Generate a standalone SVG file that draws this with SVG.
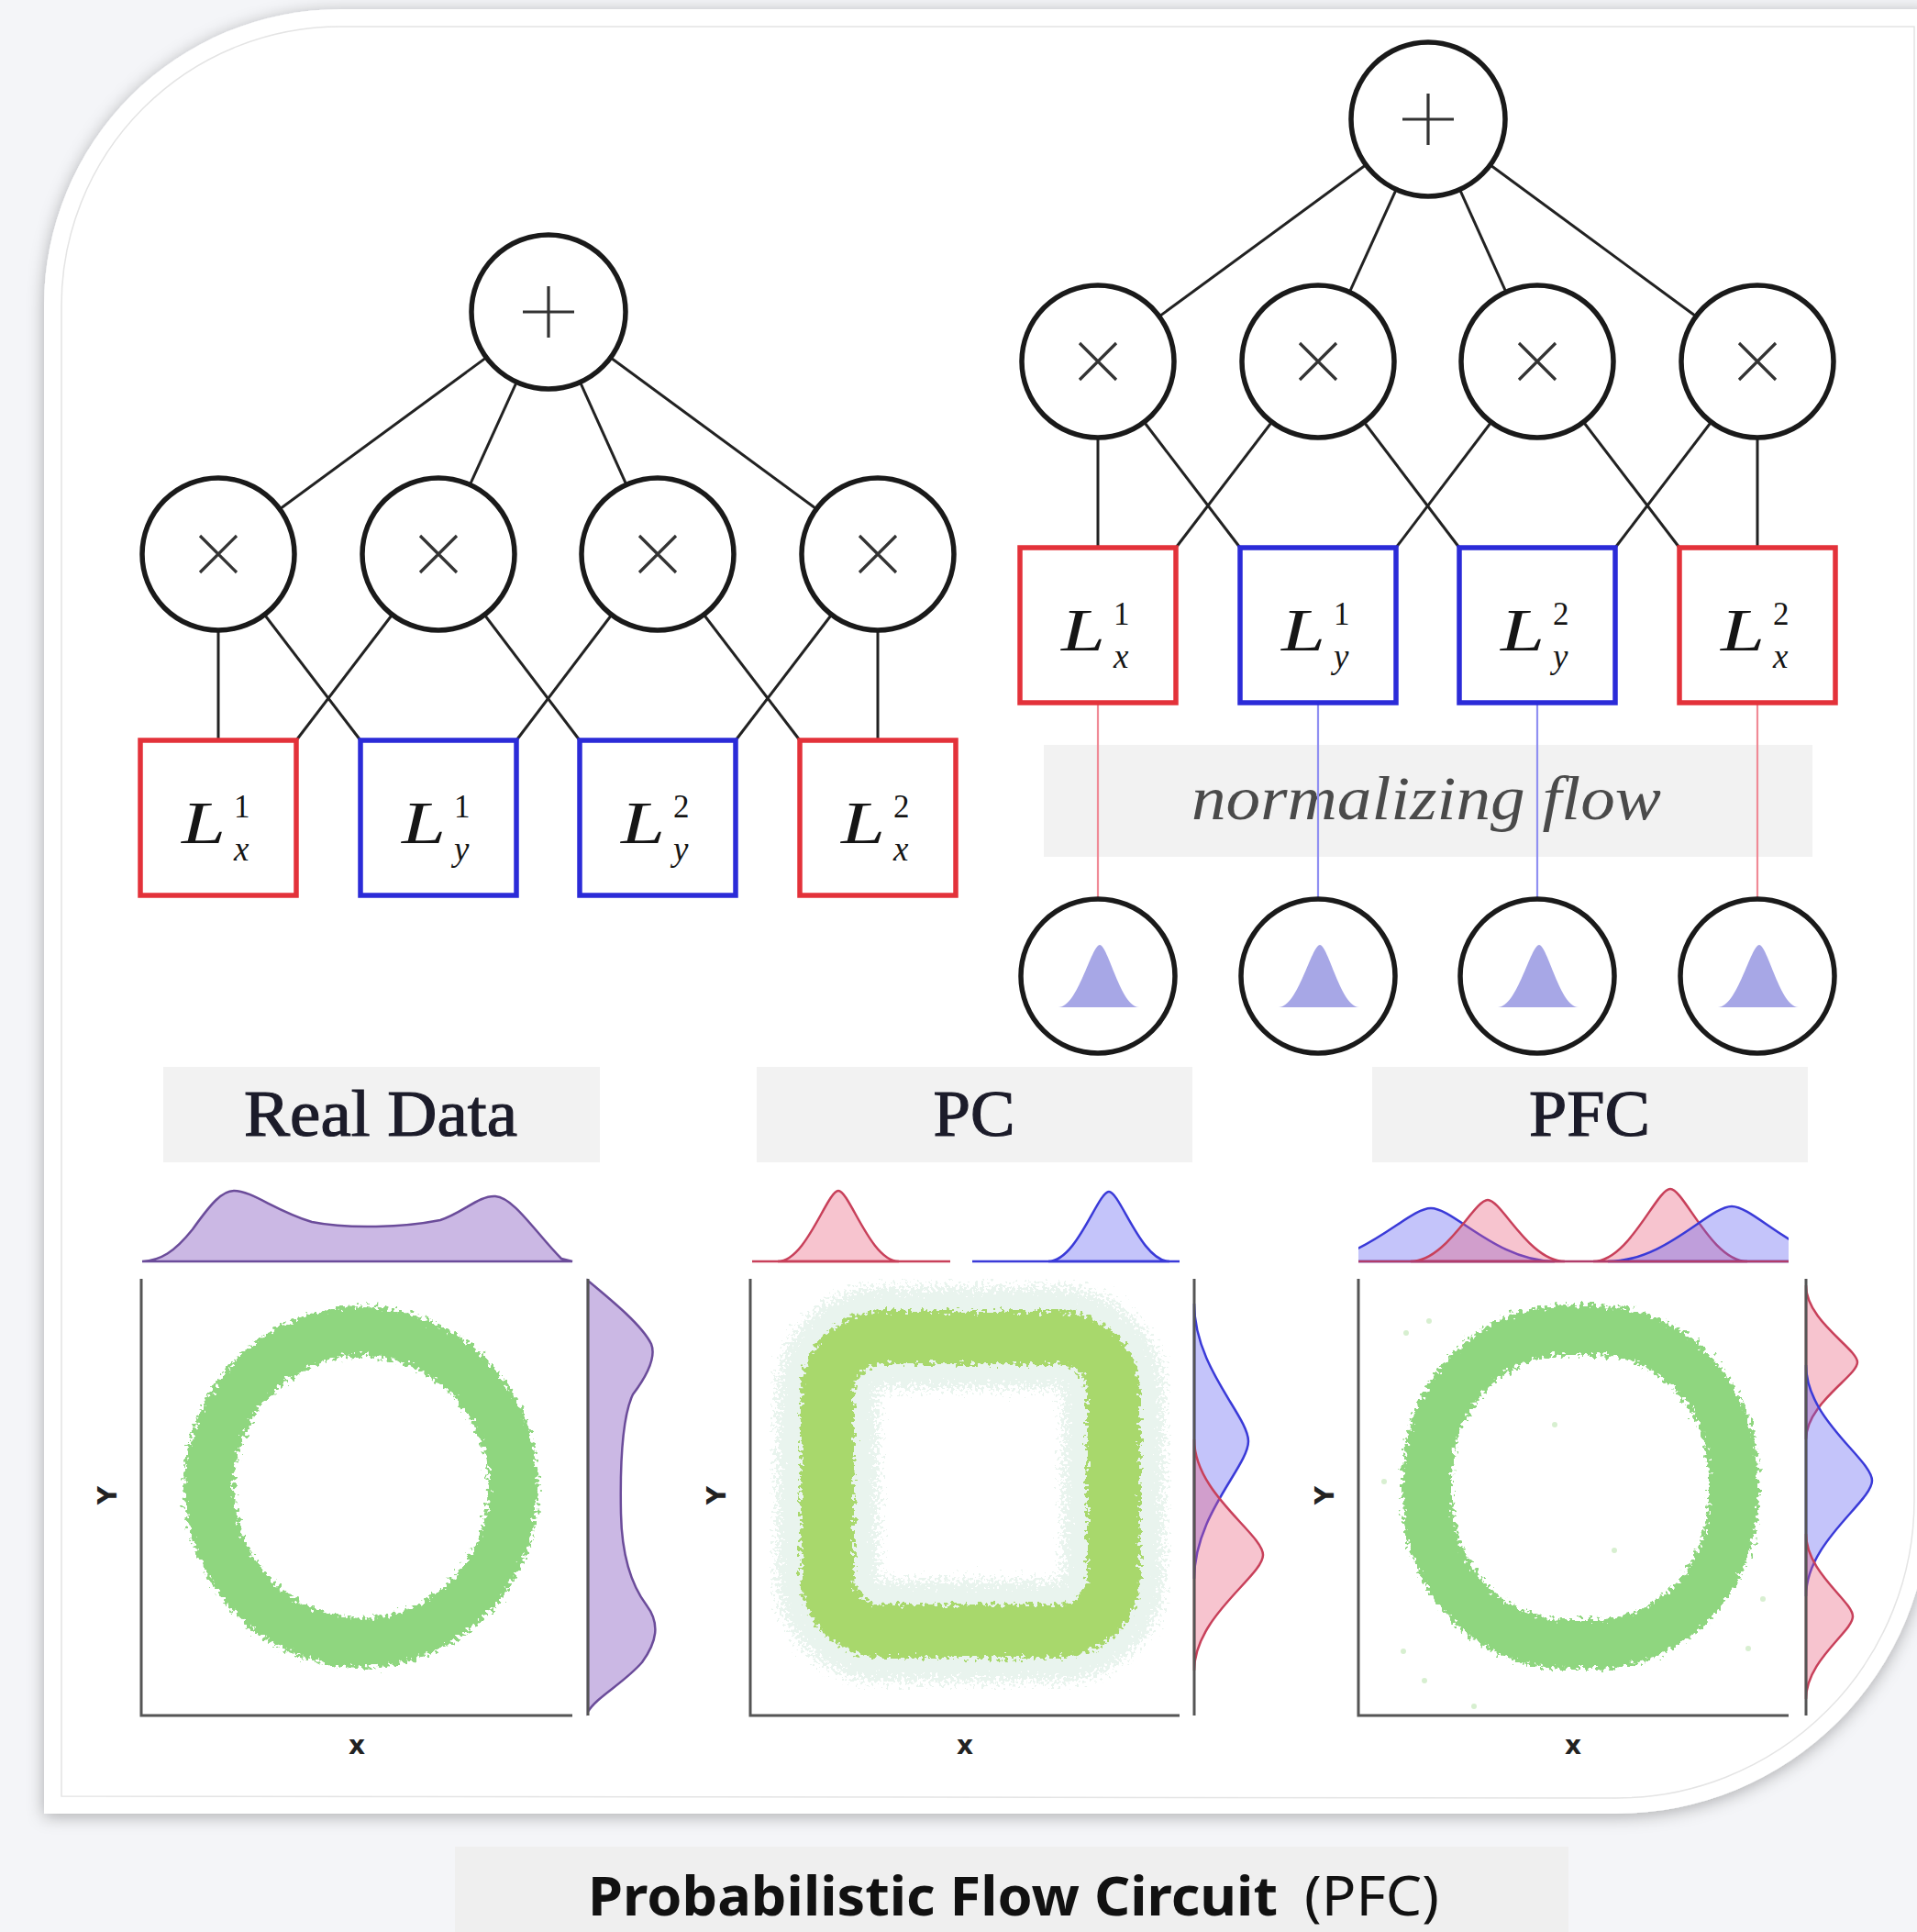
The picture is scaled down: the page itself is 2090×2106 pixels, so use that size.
<svg xmlns="http://www.w3.org/2000/svg" width="2090" height="2106" viewBox="0 0 2090 2106">
  <style>
    .edge { stroke: #222; stroke-width: 3; fill: none; }
    .op { fill: #fff; stroke: #1a1a1a; stroke-width: 5.5; }
    .sym { stroke: #333; stroke-width: 3.2; fill: none; stroke-linecap: butt; }
    .leafR { fill: #fff; stroke: #e3323a; stroke-width: 5.5; }
    .leafB { fill: #fff; stroke: #2b2bd8; stroke-width: 5.5; }
    .lv { font-family: "Liberation Serif", serif; font-style: italic; font-size: 66px; fill: #151515; }
    .sup { font-family: "Liberation Serif", serif; font-size: 35px; fill: #151515; }
    .sub { font-family: "Liberation Serif", serif; font-style: italic; font-size: 37px; fill: #151515; }
    .flowR { stroke: #f08a96; stroke-width: 2.2; }
    .flowB { stroke: #9090f2; stroke-width: 2.2; }
    .band { fill: #f2f2f2; }
    .title { font-family: "Liberation Serif", serif; font-size: 72px; fill: #1c1c2a; stroke: #1c1c2a; stroke-width: 1.2; text-anchor: middle; }
    .axis { stroke: #555; stroke-width: 3; fill: none; }
    .alab { font-family: "DejaVu Sans", sans-serif; font-weight: bold; font-size: 28px; fill: #222; text-anchor: middle; }
    .purple { fill: #cbb8e4; stroke: #6b4c9a; stroke-width: 2.5; }
    .red { fill: rgba(232, 92, 122, 0.36); stroke: #c8405a; stroke-width: 2.5; }
    .blue { fill: rgba(92, 92, 240, 0.36); stroke: #3a3ad8; stroke-width: 2.5; }
    .bell { fill: #a7a7e6; }
    .cap { font-family: "Noto Sans", "Open Sans", sans-serif; font-size: 60px; fill: #111; }
  </style>
  <defs>
    <filter id="shadow" x="-5%" y="-5%" width="110%" height="110%">
      <feDropShadow dx="0" dy="3" stdDeviation="9" flood-color="#000" flood-opacity="0.3"/>
    </filter>
    <filter id="grain" x="-15%" y="-15%" width="130%" height="130%">
      <feTurbulence type="fractalNoise" baseFrequency="0.22" numOctaves="2" seed="3" result="n"/>
      <feDisplacementMap in="SourceGraphic" in2="n" scale="18" xChannelSelector="R" yChannelSelector="G"/>
    </filter>
    <filter id="halo" x="-20%" y="-20%" width="140%" height="140%">
      <feTurbulence type="fractalNoise" baseFrequency="0.3" numOctaves="2" seed="7" result="n"/>
      <feDisplacementMap in="SourceGraphic" in2="n" scale="44" xChannelSelector="R" yChannelSelector="G"/>
    </filter>
    <clipPath id="pfcTop">
      <rect x="1481" y="1270" width="469" height="110"/>
    </clipPath>
  </defs>

  <!-- page and card -->
  <rect width="2090" height="2106" fill="#f4f5f8"/>
  <path d="M48,1977 L48,333 A323,323 0 0 1 371,10 L2104,10 L2104,1635 A342,342 0 0 1 1762,1977 Z" fill="#fff" filter="url(#shadow)"/>
  <path d="M67,1958 L67,333 A304,304 0 0 1 371,29 L2087,29 L2087,1635 A325,325 0 0 1 1762,1960 Z" fill="none" stroke="#e4e4e4" stroke-width="1.5"/>

  <!-- caption strip -->
  <g id="caption">
    <rect x="496" y="2013" width="1214" height="93" fill="#efefef"/>
    <text class="cap" x="641" y="2088" font-weight="bold" textLength="752" lengthAdjust="spacingAndGlyphs">Probabilistic Flow Circuit</text>
    <text class="cap" x="1422" y="2088" textLength="147" lengthAdjust="spacingAndGlyphs">(PFC)</text>
  </g>

  <!-- normalizing flow band -->
  <g id="flow-band">
    <rect class="band" x="1138" y="812" width="838" height="122"/>
    <text x="1299" y="893" font-family="'Liberation Serif', serif" font-style="italic" font-size="68" fill="#4a4a4a" textLength="512" lengthAdjust="spacingAndGlyphs">normalizing flow</text>
  </g>

  <!-- connectors -->
  <g id="connectors">
    <!-- left circuit -->
    <line class="edge" x1="598" y1="340" x2="238" y2="604"/>
    <line class="edge" x1="598" y1="340" x2="478" y2="604"/>
    <line class="edge" x1="598" y1="340" x2="717" y2="604"/>
    <line class="edge" x1="598" y1="340" x2="957" y2="604"/>
    <line class="edge" x1="238" y1="604" x2="238" y2="807"/>
    <line class="edge" x1="238" y1="604" x2="393" y2="807"/>
    <line class="edge" x1="478" y1="604" x2="323" y2="807"/>
    <line class="edge" x1="478" y1="604" x2="632" y2="807"/>
    <line class="edge" x1="717" y1="604" x2="563" y2="807"/>
    <line class="edge" x1="717" y1="604" x2="872" y2="807"/>
    <line class="edge" x1="957" y1="604" x2="802" y2="807"/>
    <line class="edge" x1="957" y1="604" x2="957" y2="807"/>
    <!-- right circuit -->
    <line class="edge" x1="1557" y1="130" x2="1197" y2="394"/>
    <line class="edge" x1="1557" y1="130" x2="1437" y2="394"/>
    <line class="edge" x1="1557" y1="130" x2="1676" y2="394"/>
    <line class="edge" x1="1557" y1="130" x2="1916" y2="394"/>
    <line class="edge" x1="1197" y1="394" x2="1197" y2="597"/>
    <line class="edge" x1="1197" y1="394" x2="1352" y2="597"/>
    <line class="edge" x1="1437" y1="394" x2="1282" y2="597"/>
    <line class="edge" x1="1437" y1="394" x2="1591" y2="597"/>
    <line class="edge" x1="1676" y1="394" x2="1522" y2="597"/>
    <line class="edge" x1="1676" y1="394" x2="1831" y2="597"/>
    <line class="edge" x1="1916" y1="394" x2="1761" y2="597"/>
    <line class="edge" x1="1916" y1="394" x2="1916" y2="597"/>
    <!-- flow links from leaves to base distributions -->
    <line class="flowR" x1="1197" y1="766" x2="1197" y2="982"/>
    <line class="flowB" x1="1437" y1="766" x2="1437" y2="982"/>
    <line class="flowB" x1="1676" y1="766" x2="1676" y2="982"/>
    <line class="flowR" x1="1916" y1="766" x2="1916" y2="982"/>
  </g>

  <!-- left circuit nodes -->
  <g id="pc-sum">
    <circle class="op" cx="598" cy="340" r="84"/>
    <path class="sym" d="M570,340 H626 M598,312 V368"/>
  </g>
  <g id="pc-prod-1"><circle class="op" cx="238" cy="604" r="83"/><path class="sym" d="M218,584 L258,624 M258,584 L218,624"/></g>
  <g id="pc-prod-2"><circle class="op" cx="478" cy="604" r="83"/><path class="sym" d="M458,584 L498,624 M498,584 L458,624"/></g>
  <g id="pc-prod-3"><circle class="op" cx="717" cy="604" r="83"/><path class="sym" d="M697,584 L737,624 M737,584 L697,624"/></g>
  <g id="pc-prod-4"><circle class="op" cx="957" cy="604" r="83"/><path class="sym" d="M937,584 L977,624 M977,584 L937,624"/></g>

  <g id="pc-leaf-x1">
    <rect class="leafR" x="153" y="807" width="170" height="169"/>
    <text class="lv" x="198" y="919" textLength="48" lengthAdjust="spacingAndGlyphs">L</text>
    <text class="sup" x="255" y="891">1</text>
    <text class="sub" x="255" y="938">x</text>
  </g>
  <g id="pc-leaf-y1">
    <rect class="leafB" x="393" y="807" width="170" height="169"/>
    <text class="lv" x="438" y="919" textLength="48" lengthAdjust="spacingAndGlyphs">L</text>
    <text class="sup" x="495" y="891">1</text>
    <text class="sub" x="495" y="938">y</text>
  </g>
  <g id="pc-leaf-y2">
    <rect class="leafB" x="632" y="807" width="170" height="169"/>
    <text class="lv" x="677" y="919" textLength="48" lengthAdjust="spacingAndGlyphs">L</text>
    <text class="sup" x="734" y="891">2</text>
    <text class="sub" x="734" y="938">y</text>
  </g>
  <g id="pc-leaf-x2">
    <rect class="leafR" x="872" y="807" width="170" height="169"/>
    <text class="lv" x="917" y="919" textLength="48" lengthAdjust="spacingAndGlyphs">L</text>
    <text class="sup" x="974" y="891">2</text>
    <text class="sub" x="974" y="938">x</text>
  </g>

  <!-- right circuit nodes -->
  <g id="pfc-sum">
    <circle class="op" cx="1557" cy="130" r="84"/>
    <path class="sym" d="M1529,130 H1585 M1557,102 V158"/>
  </g>
  <g id="pfc-prod-1"><circle class="op" cx="1197" cy="394" r="83"/><path class="sym" d="M1177,374 L1217,414 M1217,374 L1177,414"/></g>
  <g id="pfc-prod-2"><circle class="op" cx="1437" cy="394" r="83"/><path class="sym" d="M1417,374 L1457,414 M1457,374 L1417,414"/></g>
  <g id="pfc-prod-3"><circle class="op" cx="1676" cy="394" r="83"/><path class="sym" d="M1656,374 L1696,414 M1696,374 L1656,414"/></g>
  <g id="pfc-prod-4"><circle class="op" cx="1916" cy="394" r="83"/><path class="sym" d="M1896,374 L1936,414 M1936,374 L1896,414"/></g>

  <g id="pfc-leaf-x1">
    <rect class="leafR" x="1112" y="597" width="170" height="169"/>
    <text class="lv" x="1157" y="709" textLength="48" lengthAdjust="spacingAndGlyphs">L</text>
    <text class="sup" x="1214" y="681">1</text>
    <text class="sub" x="1214" y="728">x</text>
  </g>
  <g id="pfc-leaf-y1">
    <rect class="leafB" x="1352" y="597" width="170" height="169"/>
    <text class="lv" x="1397" y="709" textLength="48" lengthAdjust="spacingAndGlyphs">L</text>
    <text class="sup" x="1454" y="681">1</text>
    <text class="sub" x="1454" y="728">y</text>
  </g>
  <g id="pfc-leaf-y2">
    <rect class="leafB" x="1591" y="597" width="170" height="169"/>
    <text class="lv" x="1636" y="709" textLength="48" lengthAdjust="spacingAndGlyphs">L</text>
    <text class="sup" x="1693" y="681">2</text>
    <text class="sub" x="1693" y="728">y</text>
  </g>
  <g id="pfc-leaf-x2">
    <rect class="leafR" x="1831" y="597" width="170" height="169"/>
    <text class="lv" x="1876" y="709" textLength="48" lengthAdjust="spacingAndGlyphs">L</text>
    <text class="sup" x="1933" y="681">2</text>
    <text class="sub" x="1933" y="728">x</text>
  </g>

  <!-- base Gaussian distributions -->
  <g id="base-1"><circle class="op" cx="1197" cy="1064" r="84"/><path class="bell" d="M1154,1098 C1175,1098 1190,1030 1199,1030 C1208,1030 1222,1098 1242,1098 Z"/></g>
  <g id="base-2"><circle class="op" cx="1437" cy="1064" r="84"/><path class="bell" d="M1394,1098 C1415,1098 1430,1030 1439,1030 C1448,1030 1462,1098 1482,1098 Z"/></g>
  <g id="base-3"><circle class="op" cx="1676" cy="1064" r="84"/><path class="bell" d="M1633,1098 C1654,1098 1669,1030 1678,1030 C1687,1030 1701,1098 1721,1098 Z"/></g>
  <g id="base-4"><circle class="op" cx="1916" cy="1064" r="84"/><path class="bell" d="M1873,1098 C1894,1098 1909,1030 1918,1030 C1927,1030 1941,1098 1961,1098 Z"/></g>

  <!-- Real Data panel -->
  <g id="panel-real">
    <rect class="band" x="178" y="1163" width="476" height="104"/>
    <text class="title" x="415" y="1238" textLength="298" lengthAdjust="spacingAndGlyphs">Real Data</text>
    <path class="purple" d="M155,1375 C175,1374 190,1365 210,1340 C230,1312 242,1298 255,1298 C275,1298 300,1320 340,1332 C380,1340 440,1338 480,1330 C505,1322 522,1303 540,1304 C560,1305 585,1345 612,1372 L624,1375 Z"/>
    <path class="purple" d="M641,1396 C670,1420 700,1445 710,1465 C716,1480 705,1500 690,1520 C678,1545 676,1600 677,1650 C678,1700 690,1730 705,1750 C720,1770 716,1790 700,1812 C680,1835 650,1850 641,1866 Z"/>
    <ellipse cx="394" cy="1621" rx="166" ry="170" fill="none" stroke="#8fd67f" stroke-width="54" filter="url(#grain)"/>
    <path class="axis" d="M154,1394 V1870 H624"/>
    <path class="axis" d="M641,1394 V1870"/>
    <text class="alab" x="389" y="1912">x</text>
    <text class="alab" transform="translate(127,1630) rotate(-90)">Y</text>
  </g>

  <!-- PC panel -->
  <g id="panel-pc">
    <rect class="band" x="825" y="1163" width="475" height="104"/>
    <text class="title" x="1062" y="1238" textLength="89" lengthAdjust="spacingAndGlyphs">PC</text>
    <path class="red" d="M848,1375 C878.8,1375 901.9,1298 914,1298 C926.1,1298 949.2,1375 980,1375 Z"/>
    <path class="blue" d="M1143,1375 C1173.8,1375 1196.9,1299 1209,1299 C1221.1,1299 1244.2,1375 1275,1375 Z"/>
    <line x1="820" y1="1375" x2="1036" y2="1375" stroke="#c8405a" stroke-width="2.5"/>
    <line x1="1060" y1="1375" x2="1286" y2="1375" stroke="#3a3ad8" stroke-width="2.5"/>
    <path class="blue" d="M1302,1421 C1302,1491 1361,1543.5 1361,1571 C1361,1598.5 1302,1651 1302,1721 Z"/>
    <path class="red" d="M1302,1569 C1302,1628 1377,1672 1377,1695 C1377,1718 1302,1762 1302,1821 Z"/>
    <rect x="902" y="1458" width="312" height="320" rx="60" fill="none" stroke="#9ccfb0" stroke-opacity="0.22" stroke-width="110" filter="url(#halo)"/>
    <rect x="902" y="1458" width="312" height="320" rx="60" fill="none" stroke="#a8d86c" stroke-width="58" filter="url(#grain)"/>
    <path class="axis" d="M818,1394 V1870 H1286"/>
    <path class="axis" d="M1302,1394 V1870"/>
    <text class="alab" x="1052" y="1912">x</text>
    <text class="alab" transform="translate(791,1630) rotate(-90)">Y</text>
  </g>

  <!-- PFC panel -->
  <g id="panel-pfc">
    <rect class="band" x="1496" y="1163" width="475" height="104"/>
    <text class="title" x="1733" y="1238" textLength="132" lengthAdjust="spacingAndGlyphs">PFC</text>
    <g clip-path="url(#pfcTop)">
      <path class="blue" d="M1425,1375 C1488,1375 1535,1317 1560,1317 C1585,1317 1632,1375 1695,1375 Z"/>
      <path class="red" d="M1538,1375 C1577,1375 1607,1308 1622,1308 C1637,1308 1667,1375 1706,1375 Z"/>
      <path class="red" d="M1737,1375 C1776,1375 1806,1296 1821,1296 C1836,1296 1866,1375 1905,1375 Z"/>
      <path class="blue" d="M1753,1375 C1816,1375 1863,1315 1888,1315 C1913,1315 1960,1375 2023,1375 Z"/>
    </g>
    <line x1="1481" y1="1375" x2="1950" y2="1375" stroke="#b03c6a" stroke-width="2.5"/>
    <path class="red" d="M1969,1401 C1969,1440 2025,1470 2025,1485 C2025,1500 1969,1530 1969,1569 Z"/>
    <path class="blue" d="M1969,1488 C1969,1547 2041,1591 2041,1614 C2041,1637 1969,1681 1969,1740 Z"/>
    <path class="red" d="M1969,1672 C1969,1714 2020,1745.5 2020,1762 C2020,1778.5 1969,1810 1969,1852 Z"/>
    <rect x="1556" y="1450" width="334" height="342" rx="150" ry="160" fill="none" stroke="#8fd67f" stroke-width="54" filter="url(#grain)"/>
    <g fill="#a8dc98" opacity="0.45">
      <circle cx="1533" cy="1453" r="3"/>
      <circle cx="1558" cy="1440" r="3"/>
      <circle cx="1695" cy="1553" r="3"/>
      <circle cx="1760" cy="1690" r="3"/>
      <circle cx="1509" cy="1615" r="3"/>
      <circle cx="1530" cy="1800" r="3"/>
      <circle cx="1553" cy="1832" r="3"/>
      <circle cx="1906" cy="1797" r="3"/>
      <circle cx="1922" cy="1743" r="3"/>
      <circle cx="1607" cy="1860" r="3"/>
    </g>
    <path class="axis" d="M1481,1394 V1870 H1950"/>
    <path class="axis" d="M1969,1394 V1870"/>
    <text class="alab" x="1715" y="1912">x</text>
    <text class="alab" transform="translate(1454,1630) rotate(-90)">Y</text>
  </g>
</svg>
